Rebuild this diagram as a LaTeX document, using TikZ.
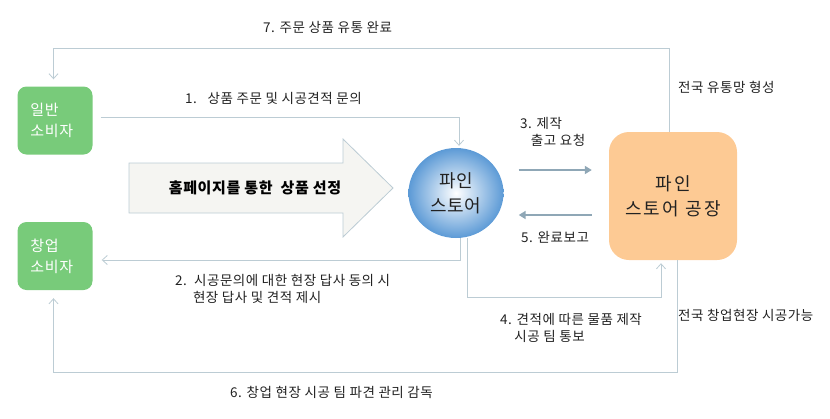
\documentclass[tikz,border=0pt]{standalone}
\usepackage{fontspec}
\setmainfont{Noto Sans CJK KR}[LetterSpace=4]
\newfontfamily\widefont{Noto Sans CJK KR}[LetterSpace=12]
\usetikzlibrary{arrows.meta,shapes.geometric}
\definecolor{lineC}{HTML}{BCCCD4}
\definecolor{darkC}{HTML}{8FA7B6}
\definecolor{greenC}{HTML}{78CB7A}
\definecolor{orangeC}{HTML}{FDCA94}
\definecolor{blueC}{HTML}{5C9AD6}
\definecolor{arrowFill}{HTML}{F5F5F2}
\definecolor{txtC}{HTML}{222222}
\tikzset{
  conn/.style={draw=lineC, line width=0.9pt, -{Straight Barb[length=5pt,width=9pt,line width=0.8pt]}},
  darr/.style={draw=darkC, line width=2pt, -{Triangle[length=7pt,width=8pt]}},
  greenbox/.style={fill=greenC, rounded corners=9pt, minimum width=75pt, minimum height=68pt,
    text=white, align=left, font=\fontsize{15}{21}\selectfont, inner sep=0pt, text width=49pt},
  lbl/.style={font=\fontsize{13.5}{17}\selectfont, text=txtC, inner sep=0pt, align=left},
}
\begin{document}
\begin{tikzpicture}[x=1pt,y=-1pt]
\useasboundingbox (0,0) rectangle (830,418);
% nodes
\node[greenbox] (g1) at (55,120.5) {\raisebox{-4pt}{\parbox{49pt}{일반\\소비자}}};
\node[greenbox] (g2) at (55,256) {\raisebox{-4pt}{\parbox{49pt}{창업\\소비자}}};
\node[ellipse, minimum width=95pt, minimum height=90pt, inner sep=0pt,
  inner color=white, outer color=blueC, text=txtC, align=center,
  font=\fontsize{18}{25}\selectfont] (store) at (456,193) {파인\\스토어};
\node[fill=orangeC, rounded corners=20pt, minimum width=128pt, minimum height=128pt,
  text=txtC, align=center, font=\widefont\fontsize{18}{25}\selectfont] (factory) at (673,196) {파인\\스토어 공장};
% big arrow
\draw[draw=lineC, fill=arrowFill, line width=0.8pt]
  (129,163) -- (343,163) -- (343,139) -- (393,188) -- (343,237) -- (343,213) -- (129,213) -- cycle;
\node[font=\bfseries\fontsize{15}{18}\selectfont, text=black] (sel) at (255,188) {홈페이지를 통한\ \ 상품 선정};
% connectors
\draw[conn, shorten >=7pt] ([xshift=-4pt]factory.north) -- ++(0,-83) -| ([xshift=-1.5pt]g1.north);
\draw[conn, shorten <=8pt, shorten >=2pt] ([yshift=3.5pt]g1.east) -| ([xshift=3pt]store.north);
\draw[conn, shorten >=9pt] ([xshift=4pt]store.south) |- ([yshift=-4pt]g2.east);
\draw[conn, shorten >=3pt] ([xshift=11pt]store.south) -- ++(0,59) -| ([xshift=-12pt]factory.south);
\draw[conn, shorten >=8pt] ([xshift=4pt]factory.south) -- ++(0,112) -| ([xshift=-1.5pt]g2.south);
\draw[darr] ([xshift=15pt,yshift=23pt]store.east) -- ([xshift=-17pt,yshift=26pt]factory.west);
\draw[darr] ([xshift=-17pt,yshift=-19pt]factory.west) -- ([xshift=15pt,yshift=-22pt]store.east);
% labels
\node[lbl, anchor=west] (l7) at (263,27) {7. 주문 상품 유통 완료};
\node[lbl, anchor=west] (lnet) at (678,87) {전국 유통망 형성};
\node[lbl, anchor=west] (l1) at (185,98) {1.\ \ \ 상품 주문 및 시공견적 문의};
\node[lbl, anchor=west] (l3) at (520,132) {3. 제작\\\ \ \ 출고 요청};
\node[lbl, anchor=west] (l5) at (521,237) {5. 완료보고};
\node[lbl, anchor=west] (l2) at (175,289) {2.\ \ 시공문의에 대한 현장 답사 동의 시\\\ \ \ \ \ 현장 답사 및 견적 제시};
\node[lbl, anchor=west] (l4) at (500,328) {4. 견적에 따른 물품 제작\\\ \ \ \ 시공 팀 통보};
\node[lbl, anchor=west] (lsite) at (678,315) {전국 창업현장 시공가능};
\node[lbl, anchor=west] (l6) at (230,392) {6. 창업 현장 시공 팀 파견 관리 감독};
\end{tikzpicture}
\end{document}
